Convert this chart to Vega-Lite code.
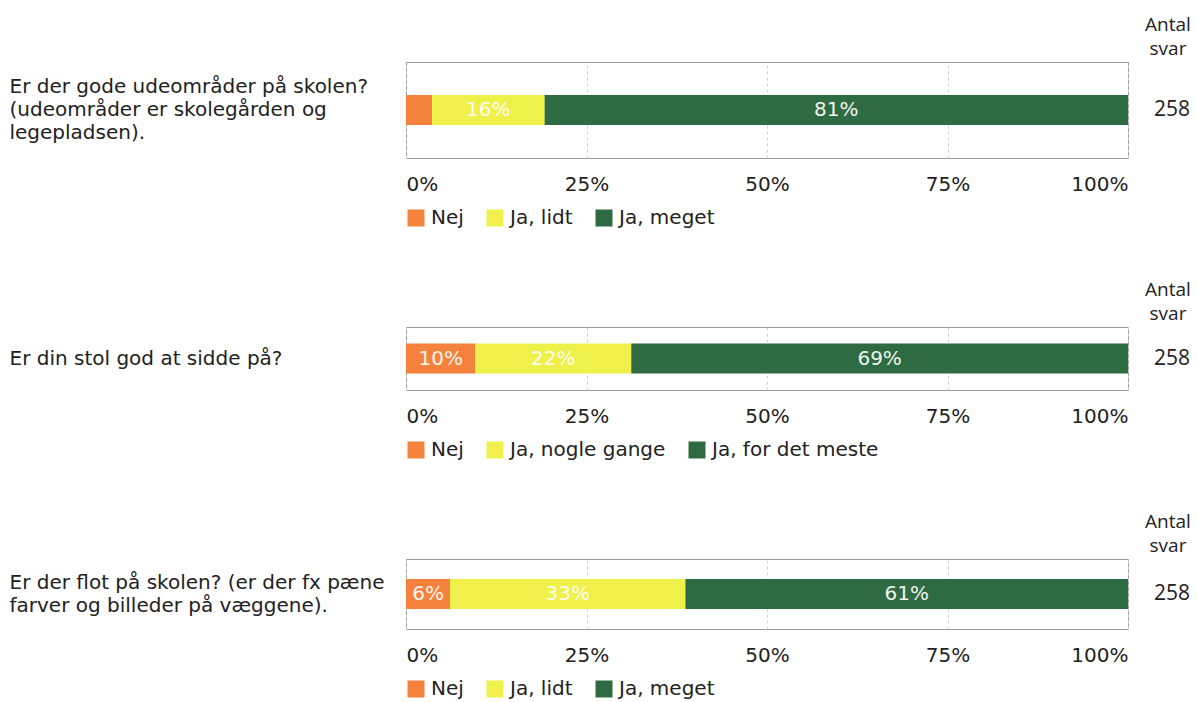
{
  "$schema": "https://vega.github.io/schema/vega-lite/v6.json",
  "padding": {"left": 8, "top": 16, "right": 0, "bottom": 0},
  "background": "white",
  "datasets": {
    "q1": [
      {"question": "Er der gode udeområder på skolen?\n(udeområder er skolegården og\nlegepladsen).", "answer": "Nej", "k": 1, "share": 0.036},
      {"question": "Er der gode udeområder på skolen?\n(udeområder er skolegården og\nlegepladsen).", "answer": "Ja, lidt", "k": 2, "share": 0.156},
      {"question": "Er der gode udeområder på skolen?\n(udeområder er skolegården og\nlegepladsen).", "answer": "Ja, meget", "k": 3, "share": 0.808}
    ],
    "q2": [
      {"question": "Er din stol god at sidde på?", "answer": "Nej", "k": 1, "share": 0.096},
      {"question": "Er din stol god at sidde på?", "answer": "Ja, nogle gange", "k": 2, "share": 0.216},
      {"question": "Er din stol god at sidde på?", "answer": "Ja, for det meste", "k": 3, "share": 0.688}
    ],
    "q3": [
      {"question": "Er der flot på skolen? (er der fx pæne\nfarver og billeder på væggene).", "answer": "Nej", "k": 1, "share": 0.061},
      {"question": "Er der flot på skolen? (er der fx pæne\nfarver og billeder på væggene).", "answer": "Ja, lidt", "k": 2, "share": 0.326},
      {"question": "Er der flot på skolen? (er der fx pæne\nfarver og billeder på væggene).", "answer": "Ja, meget", "k": 3, "share": 0.613}
    ],
    "antal": [
      {"q": 1, "n": 258},
      {"q": 2, "n": 258},
      {"q": 3, "n": 258}
    ]
  },
  "columns": 2,
  "align": "each",
  "bounds": "flush",
  "spacing": {"row": 169, "column": 13},
  "resolve": {"scale": {"color": "independent", "x": "independent", "y": "independent"}},
  "concat": [
    {
      "data": {"name": "q1"},
      "width": 722, "height": 96,
      "encoding": {
        "y": {"field": "question", "type": "nominal", "axis": {"title": null, "labelAlign": "left", "labelPadding": 397, "labelLimit": 420, "labelLineHeight": 23, "labelOffset": -23, "labelExpr": "split(datum.label, '\\n')"}},
        "order": {"field": "k", "type": "quantitative"}
      },
      "layer": [
        {
          "mark": {"type": "bar", "size": 30},
          "encoding": {
            "x": {"field": "share", "type": "quantitative", "stack": "zero", "scale": {"domain": [0, 1]}, "axis": {"title": null, "values": [0, 0.25, 0.5, 0.75, 1], "format": ".0%", "labelFlush": true, "grid": true, "gridDash": [3, 3], "gridColor": "#d2d2d2", "labelPadding": 16}},
            "color": {"field": "answer", "type": "nominal", "scale": {"domain": ["Nej", "Ja, lidt", "Ja, meget"], "range": ["#F5823C", "#F0F04A", "#2F6B42"]}, "legend": {"title": null, "orient": "bottom", "direction": "horizontal", "offset": 14}}
          }
        },
        {
          "mark": {"type": "text", "color": "white", "fontSize": 20, "opacity": 0.92},
          "encoding": {
            "x": {"field": "share", "type": "quantitative", "stack": "zero", "bandPosition": 0.5},
            "detail": {"field": "answer"},
            "text": {"condition": {"test": "datum.share < 0.05", "value": ""}, "field": "share", "type": "quantitative", "format": ".0%"}
          }
        }
      ]
    },
    {
      "data": {"name": "antal"},
      "transform": [{"filter": "datum.q == 1"}],
      "width": 54, "height": 96,
      "view": {"stroke": null},
      "title": {"text": ["Antal", "svar"], "font": "Open Sans", "fontSize": 19, "fontWeight": "normal", "color": "#222", "anchor": "middle", "lineHeight": 24, "offset": -16, "baseline": "bottom"},
      "mark": {"type": "text", "font": "Open Sans", "fontSize": 21, "color": "#222", "dx": 4},
      "encoding": {"text": {"field": "n", "type": "quantitative"}}
    },
    {
      "data": {"name": "q2"},
      "width": 722, "height": 63,
      "encoding": {
        "y": {"field": "question", "type": "nominal", "axis": {"title": null, "labelAlign": "left", "labelPadding": 397, "labelLimit": 420, "labelLineHeight": 23, "labelExpr": "split(datum.label, '\\n')"}},
        "order": {"field": "k", "type": "quantitative"}
      },
      "layer": [
        {
          "mark": {"type": "bar", "size": 30},
          "encoding": {
            "x": {"field": "share", "type": "quantitative", "stack": "zero", "scale": {"domain": [0, 1]}, "axis": {"title": null, "values": [0, 0.25, 0.5, 0.75, 1], "format": ".0%", "labelFlush": true, "grid": true, "gridDash": [3, 3], "gridColor": "#d2d2d2", "labelPadding": 16}},
            "color": {"field": "answer", "type": "nominal", "scale": {"domain": ["Nej", "Ja, nogle gange", "Ja, for det meste"], "range": ["#F5823C", "#F0F04A", "#2F6B42"]}, "legend": {"title": null, "orient": "bottom", "direction": "horizontal", "offset": 14}}
          }
        },
        {
          "mark": {"type": "text", "color": "white", "fontSize": 20, "opacity": 0.92},
          "encoding": {
            "x": {"field": "share", "type": "quantitative", "stack": "zero", "bandPosition": 0.5},
            "detail": {"field": "answer"},
            "text": {"condition": {"test": "datum.share < 0.05", "value": ""}, "field": "share", "type": "quantitative", "format": ".0%"}
          }
        }
      ]
    },
    {
      "data": {"name": "antal"},
      "transform": [{"filter": "datum.q == 2"}],
      "width": 54, "height": 63,
      "view": {"stroke": null},
      "title": {"text": ["Antal", "svar"], "font": "Open Sans", "fontSize": 19, "fontWeight": "normal", "color": "#222", "anchor": "middle", "lineHeight": 24, "offset": -16, "baseline": "bottom"},
      "mark": {"type": "text", "font": "Open Sans", "fontSize": 21, "color": "#222", "dx": 4},
      "encoding": {"text": {"field": "n", "type": "quantitative"}}
    },
    {
      "data": {"name": "q3"},
      "width": 722, "height": 70,
      "encoding": {
        "y": {"field": "question", "type": "nominal", "axis": {"title": null, "labelAlign": "left", "labelPadding": 397, "labelLimit": 420, "labelLineHeight": 23, "labelOffset": -11.5, "labelExpr": "split(datum.label, '\\n')"}},
        "order": {"field": "k", "type": "quantitative"}
      },
      "layer": [
        {
          "mark": {"type": "bar", "size": 30},
          "encoding": {
            "x": {"field": "share", "type": "quantitative", "stack": "zero", "scale": {"domain": [0, 1]}, "axis": {"title": null, "values": [0, 0.25, 0.5, 0.75, 1], "format": ".0%", "labelFlush": true, "grid": true, "gridDash": [3, 3], "gridColor": "#d2d2d2", "labelPadding": 16}},
            "color": {"field": "answer", "type": "nominal", "scale": {"domain": ["Nej", "Ja, lidt", "Ja, meget"], "range": ["#F5823C", "#F0F04A", "#2F6B42"]}, "legend": {"title": null, "orient": "bottom", "direction": "horizontal", "offset": 14}}
          }
        },
        {
          "mark": {"type": "text", "color": "white", "fontSize": 20, "opacity": 0.92},
          "encoding": {
            "x": {"field": "share", "type": "quantitative", "stack": "zero", "bandPosition": 0.5},
            "detail": {"field": "answer"},
            "text": {"condition": {"test": "datum.share < 0.05", "value": ""}, "field": "share", "type": "quantitative", "format": ".0%"}
          }
        }
      ]
    },
    {
      "data": {"name": "antal"},
      "transform": [{"filter": "datum.q == 3"}],
      "width": 54, "height": 70,
      "view": {"stroke": null},
      "title": {"text": ["Antal", "svar"], "font": "Open Sans", "fontSize": 19, "fontWeight": "normal", "color": "#222", "anchor": "middle", "lineHeight": 24, "offset": -16, "baseline": "bottom"},
      "mark": {"type": "text", "font": "Open Sans", "fontSize": 21, "color": "#222", "dx": 4},
      "encoding": {"text": {"field": "n", "type": "quantitative"}}
    }
  ],
  "config": {
    "font": "DejaVu Sans",
    "view": {"stroke": "#9a9a9a", "strokeWidth": 1},
    "axis": {"labelFont": "DejaVu Sans", "labelFontSize": 20, "labelColor": "#222", "ticks": false, "domain": false},
    "legend": {"labelFont": "DejaVu Sans", "labelFontSize": 20, "labelColor": "#222", "labelLimit": 320, "symbolType": "square", "symbolSize": 289, "symbolStrokeWidth": 0, "symbolOpacity": 1, "labelOffset": 5, "columnPadding": 21, "padding": 0},
    "text": {"font": "DejaVu Sans"}
  }
}
